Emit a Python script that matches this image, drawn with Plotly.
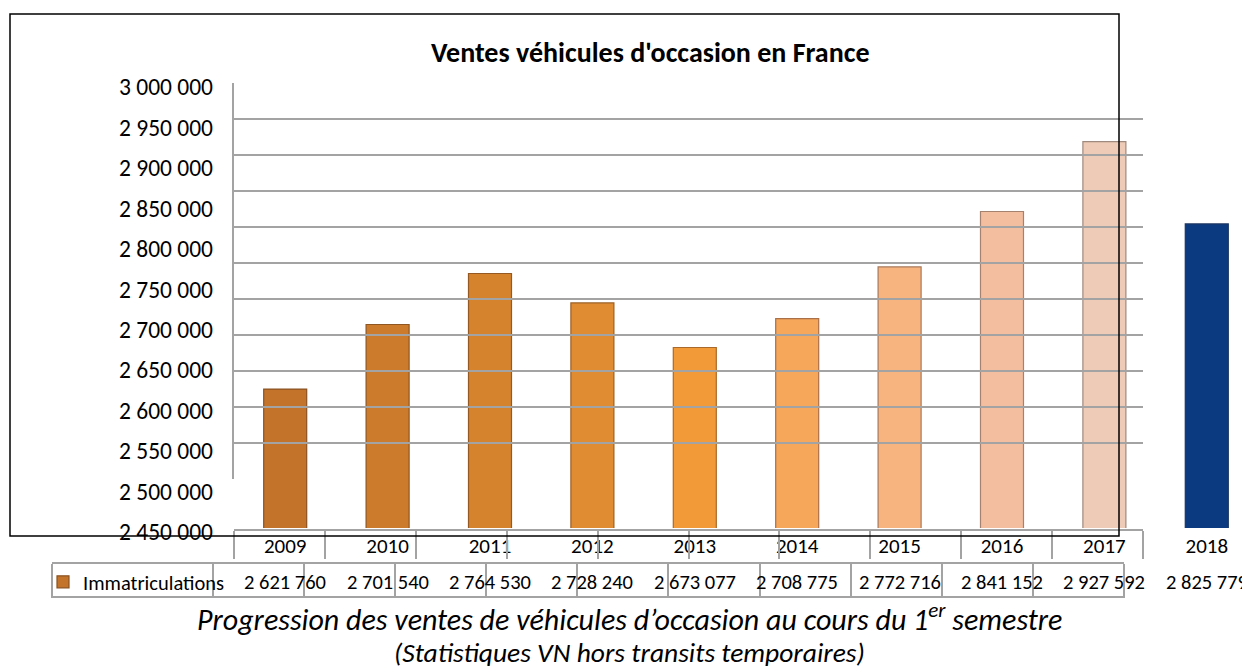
import plotly.graph_objects as go

# ---- data ----
years = ["2009", "2010", "2011", "2012", "2013", "2014", "2015", "2016", "2017", "2018"]
immatriculations = [2621760, 2701540, 2764530, 2728240, 2673077, 2708775, 2772716, 2841152, 2927592, 2825779]
y_tick_values = [2450000, 2500000, 2550000, 2600000, 2650000, 2700000, 2750000,
                 2800000, 2850000, 2900000, 2950000, 3000000]
y_tick_labels = ["2 450 000", "2 500 000", "2 550 000", "2 600 000", "2 650 000", "2 700 000",
                 "2 750 000", "2 800 000", "2 850 000", "2 900 000", "2 950 000", "3 000 000"]
series_name = "Immatriculations"
title_text = "Ventes véhicules d'occasion en France"
caption_1 = "Progression des ventes de véhicules d’occasion au cours du 1<sup>er</sup> semestre"
caption_2 = "(Statistiques VN hors transits temporaires)"

# ---- style ----
bar_colors = ["#c4732a", "#cc7a2b", "#d6832e", "#e08c32", "#f39a38",
              "#f6a75a", "#f8b47e", "#f3bea0", "#eecbb7", "#0c3a80"]
bar_lines = ["#8a5220", "#8f5622", "#955a24", "#9c6026", "#a8692a",
             "#aa7048", "#a9785a", "#a4826f", "#9e8a7e", "#1b3560"]
FONT = "Carlito, Lato, sans-serif"
GRID = "#a3a3a3"
PAGE_OFF = 8            # default body margin of the html page
W, H = 1250 - PAGE_OFF, 668 - PAGE_OFF

def px_x(p):            # page pixel -> paper fraction
    return (p - PAGE_OFF) / W

def px_y(p):
    return 1 - (p - PAGE_OFF) / H

def fmt(v):
    return f"{v:,}".replace(",", " ")

fig = go.Figure()

fig.add_trace(go.Bar(
    x=years, y=immatriculations, name=series_name,
    marker=dict(color=bar_colors, line=dict(color=bar_lines, width=1.2)),
    width=0.42, showlegend=True, hoverinfo="x+y",
))
# helper traces so that decoration axes exist
fig.add_trace(go.Scatter(x=[None], y=[None], xaxis="x2", yaxis="y2", showlegend=False, hoverinfo="skip"))
fig.add_trace(go.Scatter(x=[None], y=[None], xaxis="x3", yaxis="y3", showlegend=False, hoverinfo="skip"))
fig.add_trace(go.Scatter(x=[None], y=[None], xaxis="x4", yaxis="y3", showlegend=False, hoverinfo="skip"))

# values row of the data table (category axis -> serial index)
for i, v in enumerate(immatriculations):
    fig.add_annotation(x=i, y=px_y(582), xref="x", yref="paper", text=fmt(v),
                       showarrow=False, font=dict(family=FONT, size=20.5, color="#000"),
                       xanchor="center", yanchor="middle")

fig.add_annotation(x=px_x(650), y=px_y(53), xref="paper", yref="paper",
                   text="<b>" + title_text + "</b>", showarrow=False,
                   xanchor="center", yanchor="middle",
                   font=dict(family=FONT, size=28, color="#000"))
fig.add_annotation(x=px_x(629), y=px_y(617), xref="paper", yref="paper",
                   text="<i>" + caption_1 + "</i>", showarrow=False,
                   xanchor="center", yanchor="middle",
                   font=dict(family=FONT, size=30, color="#000"))
fig.add_annotation(x=px_x(629), y=px_y(652), xref="paper", yref="paper",
                   text="<i>" + caption_2 + "</i>", showarrow=False,
                   xanchor="center", yanchor="middle",
                   font=dict(family=FONT, size=27.5, color="#000"))

# outer black frame
fig.add_shape(type="rect", xref="paper", yref="paper",
              x0=px_x(10), x1=px_x(1119), y0=px_y(536), y1=px_y(14),
              line=dict(color="#000", width=1.5), layer="above")

fig.update_layout(
    width=W, height=H, margin=dict(l=0, r=0, t=0, b=0, autoexpand=False),
    paper_bgcolor="white", plot_bgcolor="rgba(0,0,0,0)",
    font=dict(family=FONT, color="#000"),
    showlegend=True,
    legend=dict(x=px_x(43), y=px_y(582), xanchor="left", yanchor="middle",
                bgcolor="rgba(0,0,0,0)", font=dict(family=FONT, size=20.5),
                itemclick=False, itemdoubleclick=False),
    xaxis=dict(domain=[px_x(234), 1.0], range=[-0.5, 9.422], type="category",
               showgrid=False, showline=False, ticks="", zeroline=False,
               tickfont=dict(family=FONT, size=21, color="#000"), ticklabelstandoff=3),
    yaxis=dict(domain=[px_y(528), px_y(83)], range=[2450000, 3000000],
               tickmode="array", tickvals=y_tick_values, ticktext=y_tick_labels,
               showgrid=False, showline=False, zeroline=False, ticks="",
               tickfont=dict(family=FONT, size=23.5, color="#000"),
               ticklabelstandoff=20, ticklabelshift=4),
    xaxis2=dict(domain=[px_x(234), px_x(1143)], range=[0, 10], anchor="free",
                position=px_y(530), showgrid=False, zeroline=False,
                showline=True, linecolor=GRID, linewidth=1.5,
                ticks="outside", ticklen=28, tickwidth=1.5, tickcolor=GRID,
                tickmode="array", tickvals=list(range(11)), showticklabels=False),
    yaxis2=dict(domain=[px_y(479), px_y(83)], range=[0, 11], anchor="x2",
                showgrid=True, gridcolor=GRID, gridwidth=1.5, zeroline=False,
                showline=True, linecolor=GRID, linewidth=1.5,
                tickmode="array", tickvals=list(range(1, 12)),
                showticklabels=False, ticks=""),
    xaxis3=dict(domain=[px_x(52), px_x(1124)], range=[-1.767, 10], anchor="free",
                position=px_y(563), showgrid=False, zeroline=False,
                showline=True, linecolor=GRID, linewidth=1.5,
                ticks="outside", ticklen=34, tickwidth=1.5, tickcolor=GRID,
                tickmode="array", tickvals=[-1.767] + list(range(11)), showticklabels=False),
    xaxis4=dict(domain=[px_x(52), px_x(1124)], range=[0, 1], anchor="free",
                position=px_y(597), showgrid=False, zeroline=False,
                showline=True, linecolor=GRID, linewidth=1.5,
                ticks="", showticklabels=False),
    yaxis3=dict(domain=[px_y(597), px_y(563)], anchor="x3", visible=False),
)

fig.write_html("out.html")
